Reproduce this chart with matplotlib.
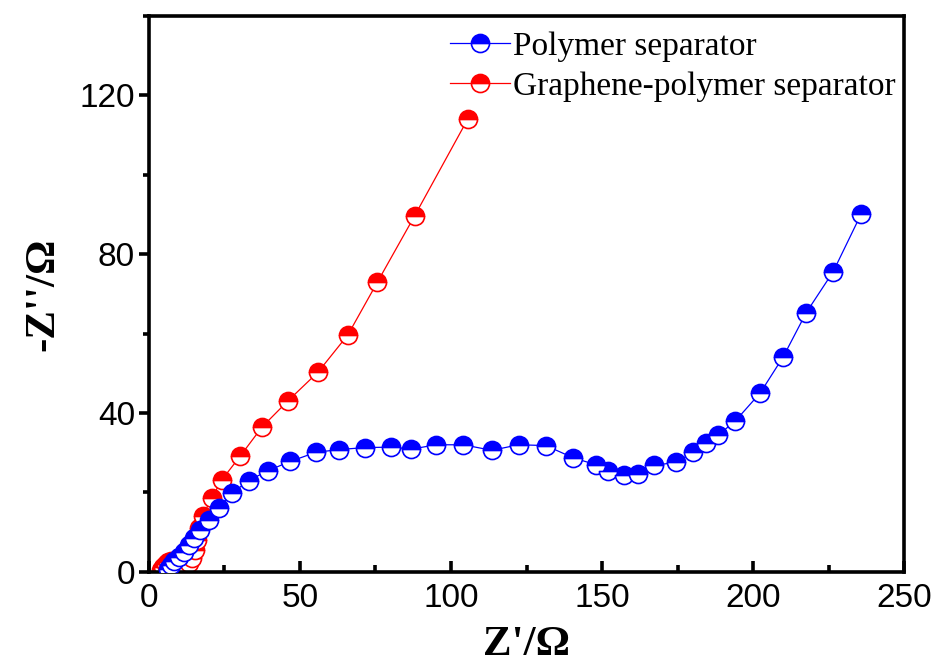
import matplotlib.pyplot as plt
from matplotlib.ticker import MultipleLocator

# --- данные ---
poly_x = [6.5, 7.2, 8.3, 9.9, 11.6, 13.2, 14.9, 17.1, 19.8, 23.1, 27.5, 33.1,
          39.5, 46.8, 55.3, 63.1, 71.6, 80.0, 86.9, 95.1, 104.1, 113.5, 122.4,
          131.4, 140.5, 147.9, 152.1, 157.4, 162.0, 167.3, 174.6, 180.2, 184.3,
          188.5, 194.0, 202.4, 210.0, 217.6, 226.5, 235.8]
poly_y = [0.8, 1.8, 2.6, 3.7, 5.1, 6.8, 8.5, 10.6, 13.1, 16.1, 19.8, 23.0,
          25.5, 27.8, 30.1, 30.8, 31.3, 31.4, 30.9, 32.0, 32.0, 30.6, 32.0,
          31.8, 28.7, 27.0, 25.5, 24.5, 24.6, 26.8, 27.6, 30.2, 32.4,
          34.5, 37.9, 45.1, 54.2, 65.3, 75.6, 90.2]

graph_x = [4.0, 4.8, 5.6, 6.5, 7.5, 8.6, 9.8, 11.0, 12.1, 13.2, 14.3, 15.2,
           16.0, 16.6, 17.8, 20.9, 24.2, 30.3, 37.5, 46.1, 56.0, 65.9, 75.6,
           88.0, 105.6]
graph_y = [0.5, 1.3, 2.0, 2.5, 2.7, 2.7, 2.6, 2.3, 2.0, 2.3, 3.5, 5.5,
           8.1, 11.0, 14.0, 18.7, 23.2, 29.2, 36.5, 43.1, 50.3, 59.7, 72.9,
           89.7, 114.1]

labels = ['Polymer separator', 'Graphene-polymer separator']
colors = ['#0000FF', '#FF0000']

fig = plt.figure(figsize=(9.36, 6.68), dpi=100)
ax = fig.add_axes([0.159, 0.144, 0.807, 0.832])

def draw(xs, ys, c, lab, z):
    line, = ax.plot(xs, ys, '-', color=c, lw=0.9, marker='o', markersize=13,
                    fillstyle='top', markerfacecolor=c,
                    markerfacecoloralt='white', markeredgecolor=c,
                    markeredgewidth=1.2, label=lab, zorder=z)
    return line

# синий поверх красного, как на исходнике
l_graph = draw(graph_x, graph_y, colors[1], labels[1], 2)
l_poly = draw(poly_x, poly_y, colors[0], labels[0], 3)

ax.set_xlim(0, 250)
ax.set_ylim(0, 140)
ax.xaxis.set_major_locator(MultipleLocator(50))
ax.xaxis.set_minor_locator(MultipleLocator(25))
ax.yaxis.set_major_locator(MultipleLocator(40))
ax.yaxis.set_minor_locator(MultipleLocator(20))

for s in ax.spines.values():
    s.set_linewidth(2.6)

ax.tick_params(axis='x', which='major', direction='in', length=8, width=2.6,
               labelsize=24, pad=8)
ax.tick_params(axis='x', which='minor', direction='in', length=5, width=2.6)
ax.tick_params(axis='y', which='major', direction='out', length=7, width=2.6,
               labelsize=24, pad=3)
ax.tick_params(axis='y', which='minor', direction='out', length=4, width=2.6)
for t in ax.get_xticklabels() + ax.get_yticklabels():
    t.set_fontfamily('Liberation Sans')

ax.set_xlabel("Z'/Ω", fontfamily='Liberation Serif', fontweight='bold',
              fontsize=31, labelpad=9)
ax.set_ylabel("-Z''/Ω", fontfamily='Liberation Serif', fontweight='bold',
              fontsize=31, labelpad=12)

ax.legend([l_poly, l_graph], labels, loc='upper right',
          bbox_to_anchor=(1.015, 1.008), frameon=False,
          prop={'family': 'Liberation Serif', 'size': 24},
          handlelength=1.8, handletextpad=0.1, labelspacing=0.28,
          borderaxespad=0.2)

plt.savefig('out.png', dpi=100)
